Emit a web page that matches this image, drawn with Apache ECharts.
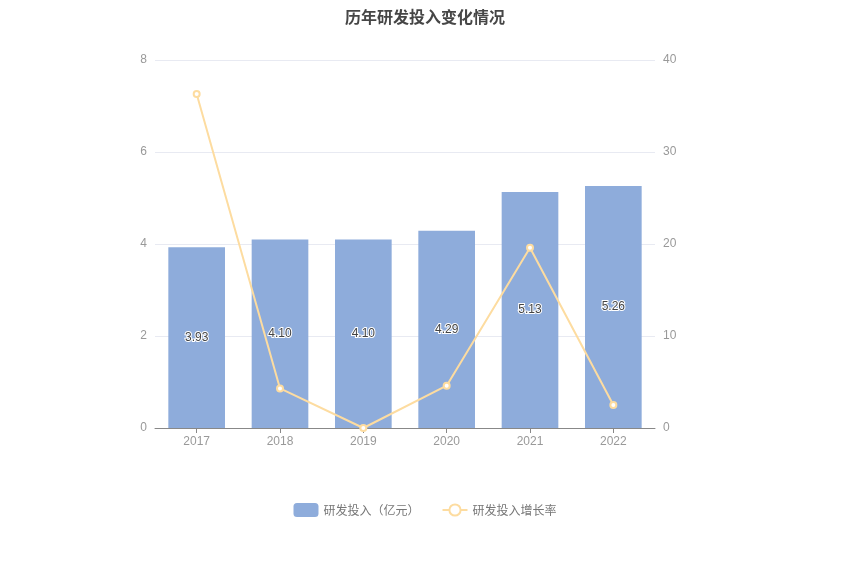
<!DOCTYPE html>
<html><head><meta charset="utf-8">
<script src="https://cdn.jsdelivr.net/npm/echarts@6/dist/echarts.min.js"></script>
<style>html,body{margin:0;padding:0;background:#fff}#c{width:850px;height:574px}</style>
</head><body><div id="c"></div>
<script>
const categories = ['2017','2018','2019','2020','2021','2022'];
const investment = [3.93, 4.10, 4.10, 4.29, 5.13, 5.26];
const growthRate = [36.3, 4.3, 0.0, 4.6, 19.6, 2.5];
const leftTicks = {min:0, max:8, interval:2};
const rightTicks = {min:0, max:40, interval:10};

const chart = echarts.init(document.getElementById('c'));
chart.setOption({
  animation:false,
  title:{text:'历年研发投入变化情况', left:'center', top:4,
    textStyle:{fontSize:16, fontWeight:'bold', color:'#464646', fontFamily:'Noto Sans CJK SC'}},
  grid:{left:155, right:195, top:60, bottom:146},
  legend:{bottom:52, left:'center', itemGap:22, itemWidth:25, itemHeight:14,
    textStyle:{color:'#777', fontSize:12, fontFamily:'Noto Sans CJK SC'},
    data:[{name:'研发投入（亿元）', icon:'roundRect'},{name:'研发投入增长率'}]},
  xAxis:{type:'category', data:categories,
    axisLine:{lineStyle:{color:'#888'}}, axisTick:{show:true, alignWithLabel:true, lineStyle:{color:'#888'}},
    axisLabel:{color:'#999', fontSize:12, margin:8}},
  yAxis:[
    {type:'value', min:leftTicks.min, max:leftTicks.max, interval:leftTicks.interval,
     axisLine:{show:false}, axisTick:{show:false},
     axisLabel:{color:'#999', fontSize:12, margin:8},
     splitLine:{lineStyle:{color:'#e8eaf2'}}},
    {type:'value', min:rightTicks.min, max:rightTicks.max, interval:rightTicks.interval,
     axisLine:{show:false}, axisTick:{show:false},
     axisLabel:{color:'#999', fontSize:12, margin:8},
     splitLine:{show:false}}
  ],
  series:[
    {name:'研发投入（亿元）', type:'bar', data:investment, barWidth:'68%',
     itemStyle:{color:'#8eacdb'},
     label:{show:true, position:'inside', formatter:p=>p.value.toFixed(2),
       color:'#444', fontSize:12, textBorderColor:'#fff', textBorderWidth:2}},
    {name:'研发投入增长率', type:'line', yAxisIndex:1, data:growthRate,
     symbol:'emptyCircle', symbolSize:6,
     lineStyle:{color:'#fddca0', width:2},
     itemStyle:{color:'#fddca0', borderColor:'#fddca0', borderWidth:1.5}}
  ]
});
</script></body></html>
